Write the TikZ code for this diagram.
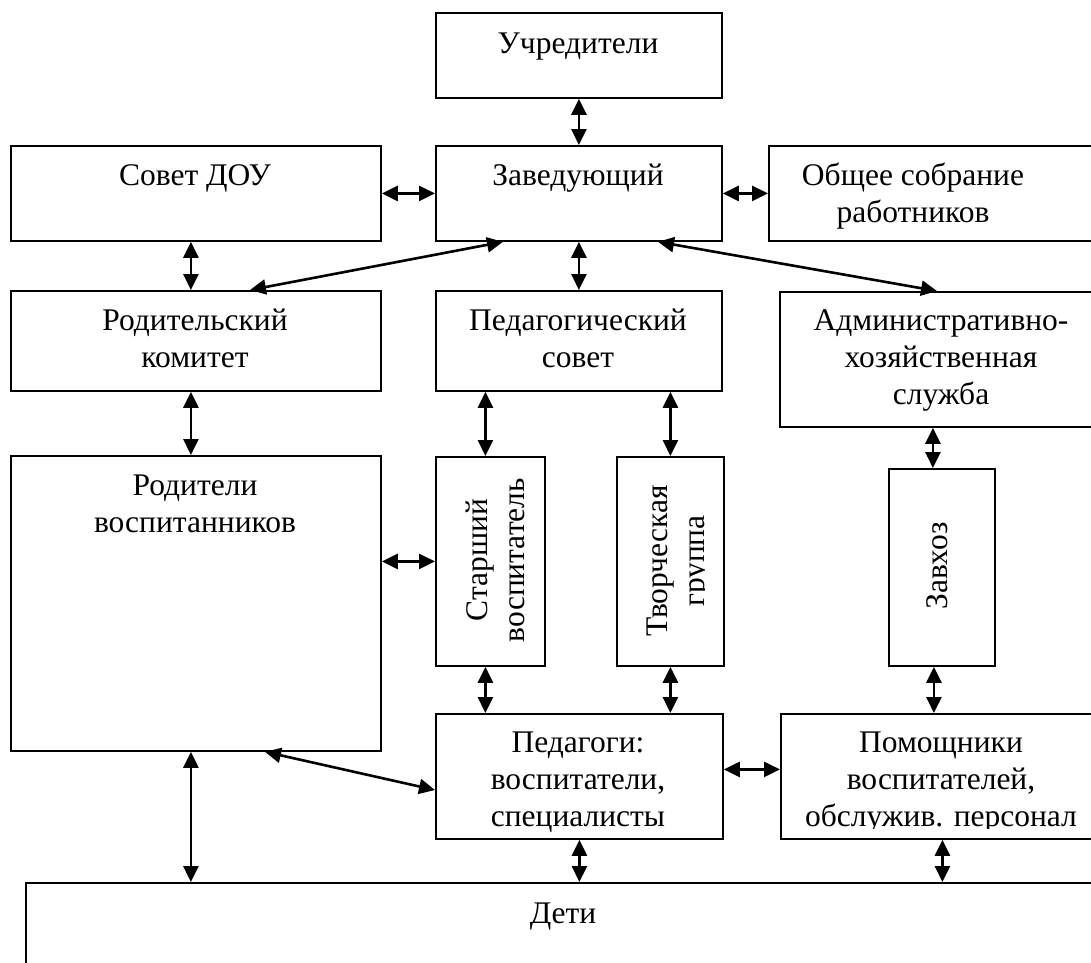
\documentclass[tikz,border=0pt]{standalone}
\usepackage{fontspec}
\setmainfont{Liberation Serif}
\usetikzlibrary{arrows.meta}

\begin{document}
\begin{tikzpicture}[x=1pt, y=-1pt,
  box/.style={draw, line width=1.8pt, inner sep=0pt, anchor=north west},
  txt/.style={anchor=north, inner sep=0pt, align=center, font=\fontsize{31.5}{37}\selectfont},
  vtxt/.style={txt, rotate=90},
  link/.style={{Triangle[length=16pt,width=15pt]}-{Triangle[length=16pt,width=15pt]}, line width=2.6pt}]
\useasboundingbox (0,0) rectangle (1091,962);
\clip (0,0) rectangle (1091,962);

% boxes
\node[box, minimum width=286pt, minimum height=85pt]  (uchr)     at (435,12)  {};
\node[box, minimum width=370pt, minimum height=95pt]  (sovet)    at (10,145)  {};
\node[box, minimum width=286pt, minimum height=95pt]  (zav)      at (435,145) {};
\node[box, minimum width=340pt, minimum height=95pt]  (obsh)     at (768,145) {};
\node[box, minimum width=370pt, minimum height=100pt] (rodkom)   at (10,290)  {};
\node[box, minimum width=286pt, minimum height=100pt] (pedsov)   at (435,290) {};
\node[box, minimum width=324pt, minimum height=135pt] (adm)      at (779,291) {};
\node[box, minimum width=370pt, minimum height=295pt] (roditeli) at (10,455)  {};
\node[box, minimum width=109pt, minimum height=209pt] (starsh)   at (435,456) {};
\node[box, minimum width=107pt, minimum height=209pt] (tvor)     at (616,456) {};
\node[box, minimum width=106pt, minimum height=197pt] (zavhoz)   at (888,468) {};
\node[box, minimum width=287pt, minimum height=125pt] (pedag)    at (435,713) {};
\node[box, minimum width=323pt, minimum height=125pt] (pomosh)   at (780,713) {};
\node[box, minimum width=1076pt, minimum height=120pt] (deti)    at (25,882)  {};

% texts
\node[txt] (uchr-t)     at (578,27)  {\strut Учредители};
\node[txt] (sovet-t)    at (195,159) {\strut Совет ДОУ};
\node[txt] (zav-t)      at (578,159) {\strut Заведующий};
\node[txt] (obsh-t)     at (913,159) {\strut Общее собрание\\работников};
\node[txt] (rodkom-t)   at (195,304) {\strut Родительский\\комитет};
\node[txt] (pedsov-t)   at (578,304) {\strut Педагогический\\совет};
\node[txt] (adm-t)      at (941,304) {\strut Административно-\\хозяйственная\\служба};
\node[txt] (roditeli-t) at (195,469) {\strut Родители\\воспитанников};
\node[vtxt] (starsh-t)  at (461,560) {\strut Старший\\воспитатель};
\begin{scope}
  \clip (616,456) rectangle (704,665);
  \node[vtxt] (tvor-t)  at (641,561) {\strut Творческая\\группа};
\end{scope}
\node[vtxt] (zavhoz-t)  at (921,566) {\strut Завхоз};
\node[txt] (pedag-t)    at (578,726) {\strut Педагоги:\\воспитатели,\\специалисты};
\begin{scope}
  \clip (780,713) rectangle (1103,828);
  \node[txt] (pomosh-t) at (941,726) {\strut Помощники\\воспитателей,\\обслужив. персонал};
\end{scope}
\node[txt] (deti-t)     at (563,897) {\strut Дети};

% links
\draw[link] (uchr) -- (zav);
\draw[link] (sovet) -- (zav);
\draw[link] (zav) -- (obsh);
\draw[link] ([xshift=-5pt]sovet.south) -- ([xshift=-5pt]rodkom.north);
\draw[link] ([xshift=240pt]rodkom.north west) -- ([xshift=68pt]zav.south west);
\draw[link] (zav) -- (pedsov);
\draw[link] ([xshift=223pt]zav.south west) -- ([xshift=158pt]adm.north west);
\draw[link] ([xshift=-5pt]rodkom.south) -- ([xshift=-5pt]roditeli.north);
\draw[link] ([xshift=-5pt]starsh.north |- pedsov.south) -- ([xshift=-5pt]starsh.north);
\draw[link] (tvor.north |- pedsov.south) -- (tvor.north);
\draw[link] ([xshift=-9pt]zavhoz.north |- adm.south) -- ([xshift=-9pt]zavhoz.north);
\draw[link] (starsh.west -| roditeli.east) -- (starsh.west);
\draw[link] ([xshift=-5pt]starsh.south) -- ([xshift=-5pt]starsh.south |- pedag.north);
\draw[link] (tvor.south) -- (tvor.south |- pedag.north);
\draw[link] ([xshift=-8pt]zavhoz.south) -- ([xshift=-8pt]zavhoz.south |- pomosh.north);
\draw[link] ([xshift=255pt]roditeli.south west) -- ([yshift=-77pt]pedag.north west);
\draw[link] ([yshift=7pt]pedag.east) -- ([yshift=7pt]pedag.east -| pomosh.west);
\draw[link] ([xshift=-5pt]roditeli.south) -- ([xshift=-5pt]roditeli.south |- deti.north);
\draw[link] (pedag.south) -- (pedag.south |- deti.north);
\draw[link] (pomosh.south) -- (pomosh.south |- deti.north);
\end{tikzpicture}
\end{document}
